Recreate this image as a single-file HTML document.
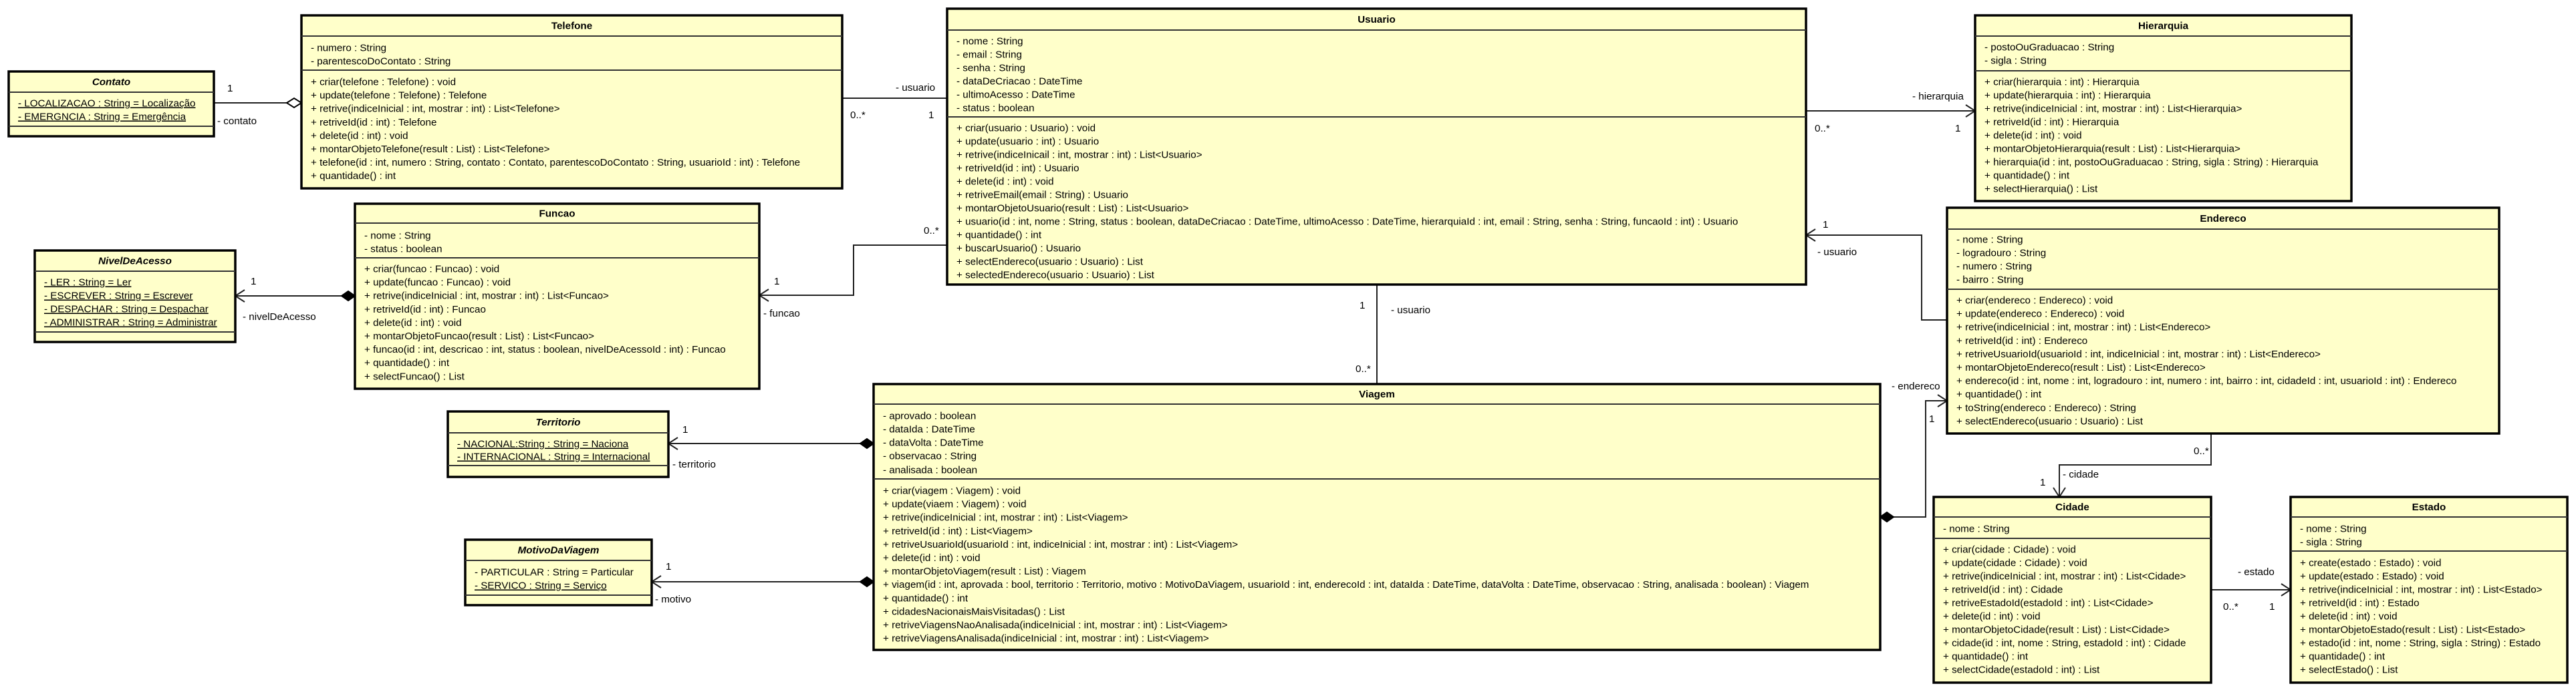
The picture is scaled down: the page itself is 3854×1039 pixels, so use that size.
<!DOCTYPE html>
<html><head><meta charset="utf-8">
<style>
html,body{margin:0;padding:0;background:#fff;}
body{width:3854px;height:1034px;overflow:hidden;}
svg text{font-family:"Liberation Sans",Arial,sans-serif;font-size:15.2px;fill:#000;}
</style></head>
<body>
<div id="c"></div>
<script>
var FILL="#ffffca";
var boxes=[
{x:13,y:107,w:307,h:97,t:"Contato",it:1,s1:138,s2:189,ul:1,a:["- LOCALIZACAO : String = Localização","- EMERGNCIA : String = Emergência"],ay:[155,175],m:[],my:0,st:20},
{x:451,y:23,w:809,h:259,t:"Telefone",s1:54,s2:105,a:["- numero : String","- parentescoDoContato : String"],ay:[72,92],my:123,st:20.1,
 m:["+ criar(telefone : Telefone) : void","+ update(telefone : Telefone) : Telefone","+ retrive(indiceInicial : int, mostrar : int) : List<Telefone>","+ retriveId(id : int) : Telefone","+ delete(id : int) : void","+ montarObjetoTelefone(result : List) : List<Telefone>","+ telefone(id : int, numero : String, contato : Contato, parentescoDoContato : String, usuarioId : int) : Telefone","+ quantidade() : int"]},
{x:531,y:305,w:605,h:277,t:"Funcao",s1:334,s2:386,a:["- nome : String","- status : boolean"],ay:[353,373],my:403,st:20.1,
 m:["+ criar(funcao : Funcao) : void","+ update(funcao : Funcao) : void","+ retrive(indiceInicial : int, mostrar : int) : List<Funcao>","+ retriveId(id : int) : Funcao","+ delete(id : int) : void","+ montarObjetoFuncao(result : List) : List<Funcao>","+ funcao(id : int, descricao : int, status : boolean, nivelDeAcessoId : int) : Funcao","+ quantidade() : int","+ selectFuncao() : List"]},
{x:52,y:375,w:300,h:137,t:"NivelDeAcesso",it:1,s1:406,s2:497,ul:1,a:["- LER : String = Ler","- ESCREVER : String = Escrever","- DESPACHAR : String = Despachar","- ADMINISTRAR : String = Administrar"],ay:[423,443,463,483],m:[],my:0,st:20},
{x:1417,y:13,w:1285,h:413,t:"Usuario",s1:45,s2:175,a:["- nome : String","- email : String","- senha : String","- dataDeCriacao : DateTime","- ultimoAcesso : DateTime","- status : boolean"],ay:[62,82,102,122,142,162],my:192,st:20,
 m:["+ criar(usuario : Usuario) : void","+ update(usuario : int) : Usuario","+ retrive(indiceInicail : int, mostrar : int) : List<Usuario>","+ retriveId(id : int) : Usuario","+ delete(id : int) : void","+ retriveEmail(email : String) : Usuario","+ montarObjetoUsuario(result : List) : List<Usuario>","+ usuario(id : int, nome : String, status : boolean, dataDeCriacao : DateTime, ultimoAcesso : DateTime, hierarquiaId : int, email : String, senha : String, funcaoId : int) : Usuario","+ quantidade() : int","+ buscarUsuario() : Usuario","+ selectEndereco(usuario : Usuario) : List","+ selectedEndereco(usuario : Usuario) : List"]},
{x:2955,y:23,w:563,h:278,t:"Hierarquia",s1:54,s2:106,a:["- postoOuGraduacao : String","- sigla : String"],ay:[71,91],my:123,st:20,
 m:["+ criar(hierarquia : int) : Hierarquia","+ update(hierarquia : int) : Hierarquia","+ retrive(indiceInicial : int, mostrar : int) : List<Hierarquia>","+ retriveId(id : int) : Hierarquia","+ delete(id : int) : void","+ montarObjetoHierarquia(result : List) : List<Hierarquia>","+ hierarquia(id : int, postoOuGraduacao : String, sigla : String) : Hierarquia","+ quantidade() : int","+ selectHierarquia() : List"]},
{x:2913,y:311,w:826,h:338,t:"Endereco",s1:343,s2:433,a:["- nome : String","- logradouro : String","- numero : String","- bairro : String"],ay:[359,379,399,419],my:450,st:20.1,
 m:["+ criar(endereco : Endereco) : void","+ update(endereco : Endereco) : void","+ retrive(indiceInicial : int, mostrar : int) : List<Endereco>","+ retriveId(id : int) : Endereco","+ retriveUsuarioId(usuarioId : int, indiceInicial : int, mostrar : int) : List<Endereco>","+ montarObjetoEndereco(result : List) : List<Endereco>","+ endereco(id : int, nome : int, logradouro : int, numero : int, bairro : int, cidadeId : int, usuarioId : int) : Endereco","+ quantidade() : int","+ toString(endereco : Endereco) : String","+ selectEndereco(usuario : Usuario) : List"]},
{x:670,y:616,w:330,h:98,t:"Territorio",it:1,s1:648,s2:697,ul:1,a:["- NACIONAL:String : String = Naciona","- INTERNACIONAL : String = Internacional"],ay:[665,684],m:[],my:0,st:20},
{x:696,y:808,w:279,h:98,t:"MotivoDaViagem",it:1,s1:839,s2:891,ul:[0,1],a:["- PARTICULAR : String = Particular","- SERVICO : String = Serviço"],ay:[857,877],m:[],my:0,st:20},
{x:1307,y:575,w:1506,h:398,t:"Viagem",s1:605,s2:717,a:["- aprovado : boolean","- dataIda : DateTime","- dataVolta : DateTime","- observacao : String","- analisada : boolean"],ay:[623,643,663,683,704],my:735,st:20.1,
 m:["+ criar(viagem : Viagem) : void","+ update(viaem : Viagem) : void","+ retrive(indiceInicial : int, mostrar : int) : List<Viagem>","+ retriveId(id : int) : List<Viagem>","+ retriveUsuarioId(usuarioId : int, indiceInicial : int, mostrar : int) : List<Viagem>","+ delete(id : int) : void","+ montarObjetoViagem(result : List) : Viagem","+ viagem(id : int, aprovada : bool, territorio : Territorio, motivo : MotivoDaViagem, usuarioId : int, enderecoId : int, dataIda : DateTime, dataVolta : DateTime, observacao : String, analisada : boolean) : Viagem","+ quantidade() : int","+ cidadesNacionaisMaisVisitadas() : List","+ retriveViagensNaoAnalisada(indiceInicial : int, mostrar : int) : List<Viagem>","+ retriveViagensAnalisada(indiceInicial : int, mostrar : int) : List<Viagem>"]},
{x:2893,y:744,w:415,h:278,t:"Cidade",s1:774,s2:806,a:["- nome : String"],ay:[792],my:823,st:20,
 m:["+ criar(cidade : Cidade) : void","+ update(cidade : Cidade) : void","+ retrive(indiceInicial : int, mostrar : int) : List<Cidade>","+ retriveId(id : int) : Cidade","+ retriveEstadoId(estadoId : int) : List<Cidade>","+ delete(id : int) : void","+ montarObjetoCidade(result : List) : List<Cidade>","+ cidade(id : int, nome : String, estadoId : int) : Cidade","+ quantidade() : int","+ selectCidade(estadoId : int) : List"]},
{x:3427,y:744,w:414,h:278,t:"Estado",s1:774,s2:825,a:["- nome : String","- sigla : String"],ay:[792,812],my:843,st:20,
 m:["+ create(estado : Estado) : void","+ update(estado : Estado) : void","+ retrive(indiceInicial : int, mostrar : int) : List<Estado>","+ retriveId(id : int) : Estado","+ delete(id : int) : void","+ montarObjetoEstado(result : List) : List<Estado>","+ estado(id : int, nome : String, sigla : String) : Estado","+ quantidade() : int","+ selectEstado() : List"]}
];
function esc(s){return s.replace(/&/g,"&amp;").replace(/</g,"&lt;").replace(/>/g,"&gt;");}
var BO=4.5;
var o='<svg xmlns="http://www.w3.org/2000/svg" width="3854" height="1034" viewBox="0 0 3854 1034">';
o+='<rect width="3854" height="1034" fill="#fff"/>';
var L='stroke="#222" stroke-width="2" fill="none"';
function pl(p){o+='<polyline points="'+p+'" '+L+'/>';}
function tx(x,y,s,a){o+='<text x="'+x+'" y="'+(y+5)+'"'+(a?' text-anchor="'+a+'"':'')+'>'+esc(s)+'</text>';}
function arrowL(x,y){pl((x+14)+','+(y-9)+' '+x+','+y+' '+(x+14)+','+(y+9));}
function arrowR(x,y){pl((x-14)+','+(y-9)+' '+x+','+y+' '+(x-14)+','+(y+9));}
function arrowD(x,y){pl((x-9)+','+(y-14)+' '+x+','+y+' '+(x+9)+','+(y-14));}
function diam(x1,y,x2,fill){var m=(x1+x2)/2;o+='<polygon points="'+x1+','+y+' '+m+','+(y-7)+' '+x2+','+y+' '+m+','+(y+7)+'" fill="'+fill+'" stroke="#000" stroke-width="2"/>';}
pl('320,154 429,154');diam(429,154,451,'#fff');tx(340,132,'1');tx(325,181,'- contato');
pl('1260,147 1417,147');tx(1272,172,'0..*');tx(1340,131,'- usuario');tx(1389,172,'1');
pl('352,443 511,443');arrowL(352,443);diam(511,443,531,'#000');tx(375,421,'1');tx(363,474,'- nivelDeAcesso');
pl('1417,367 1277,367 1277,442 1136,442');arrowL(1136,442);tx(1382,345,'0..*');tx(1158,421,'1');tx(1142,469,'- funcao');
pl('2702,166 2955,166');arrowR(2955,166);tx(2861,144,'- hierarquia');tx(2715,192,'0..*');tx(2925,192,'1');
pl('2913,479 2875,479 2875,352 2702,352');arrowL(2702,352);tx(2727,336,'1');tx(2719,377,'- usuario');
pl('2060,426 2060,575');tx(2034,457,'1');tx(2081,464,'- usuario');tx(2028,552,'0..*');
pl('2833,774 2881,774 2881,600 2913,600');arrowR(2913,600);diam(2813,774,2833,'#000');tx(2830,578,'- endereco');tx(2886,627,'1');
pl('3308,649 3308,696 3081,696 3081,744');arrowD(3081,744);tx(3282,675,'0..*');tx(3086,710,'- cidade');tx(3052,722,'1');
pl('3308,883 3427,883');arrowR(3427,883);tx(3348,856,'- estado');tx(3326,908,'0..*');tx(3395,908,'1');
pl('1000,664 1287,664');arrowL(1000,664);diam(1287,664,1307,'#000');tx(1021,643,'1');tx(1006,695,'- territorio');
pl('975,871 1287,871');arrowL(975,871);diam(1287,871,1307,'#000');tx(996,848,'1');tx(980,897,'- motivo');
boxes.forEach(function(b){
 o+='<rect x="'+b.x+'" y="'+b.y+'" width="'+b.w+'" height="'+b.h+'" fill="'+FILL+'" stroke="#000" stroke-width="3.5"/>';
 o+='<line x1="'+b.x+'" y1="'+b.s1+'" x2="'+(b.x+b.w)+'" y2="'+b.s1+'" stroke="#333" stroke-width="2"/>';
 o+='<line x1="'+b.x+'" y1="'+b.s2+'" x2="'+(b.x+b.w)+'" y2="'+b.s2+'" stroke="#333" stroke-width="2"/>';
 var ty=(b.y+b.s1)/2+5;
 o+='<text x="'+(b.x+b.w/2)+'" y="'+ty+'" text-anchor="middle" font-weight="bold"'+(b.it?' font-style="italic"':'')+'>'+esc(b.t)+'</text>';
 b.a.forEach(function(s,i){
  var u=b.ul===1||(Array.isArray(b.ul)&&b.ul[i]);
  o+='<text x="'+(b.x+14)+'" y="'+(b.ay[i]+BO)+'"'+(u?' text-decoration="underline"':'')+'>'+esc(s)+'</text>';
 });
 b.m.forEach(function(s,i){
  o+='<text x="'+(b.x+14)+'" y="'+(b.my+i*b.st+BO)+'">'+esc(s)+'</text>';
 });
});
o+='</svg>';
document.getElementById('c').innerHTML=o;
</script>
</body></html>
